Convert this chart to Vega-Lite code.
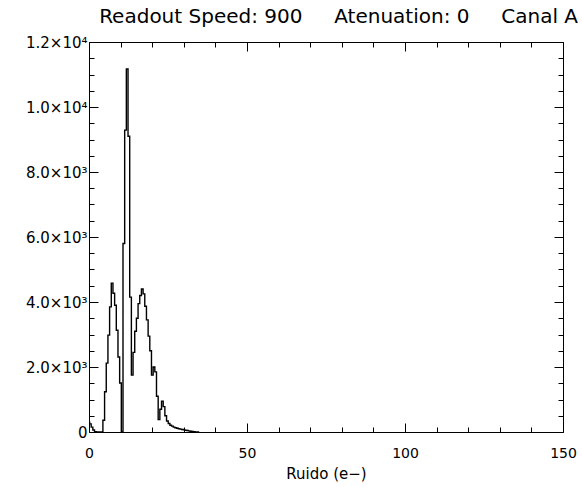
{
  "$schema": "https://vega.github.io/schema/vega-lite/v6.json",
  "width": 474,
  "height": 390,
  "autosize": "none",
  "padding": {"left": 89, "top": 42, "right": 19, "bottom": 55},
  "background": "white",
  "title": {
    "text": "Readout Speed: 900\u00a0\u00a0\u00a0\u00a0\u00a0Atenuation: 0\u00a0\u00a0\u00a0\u00a0\u00a0Canal A",
    "anchor": "end",
    "frame": "group",
    "dx": 15,
    "font": "DejaVu Sans",
    "fontSize": 20,
    "fontWeight": "normal",
    "color": "black",
    "baseline": "alphabetic",
    "offset": -8
  },
  "config": {
    "view": {"stroke": "black", "strokeWidth": 1},
    "axis": {
      "domain": false,
      "grid": false,
      "ticks": true,
      "tickOpacity": 1,
      "tickColor": "black",
      "labelColor": "black",
      "labelFont": "DejaVu Sans",
      "titleFont": "DejaVu Sans",
      "titleColor": "black",
      "titleFontWeight": "normal",
      "labelOverlap": false,
      "labelFlush": false
    }
  },
  "data": {
    "values": [
      {"x": 0, "y": 300}, {"x": 0.425, "y": 250}, {"x": 0.955, "y": 150}, {"x": 1.485, "y": 60},
      {"x": 2.015, "y": 10}, {"x": 2.545, "y": 0}, {"x": 3.075, "y": 0}, {"x": 3.605, "y": 0},
      {"x": 4.135, "y": 0}, {"x": 4.665, "y": 360}, {"x": 5.195, "y": 1240}, {"x": 5.725, "y": 2120},
      {"x": 6.255, "y": 2980}, {"x": 6.785, "y": 3850}, {"x": 7.315, "y": 4580}, {"x": 7.845, "y": 4270},
      {"x": 8.375, "y": 3900}, {"x": 8.905, "y": 3130}, {"x": 9.435, "y": 2310}, {"x": 9.965, "y": 1510},
      {"x": 10.495, "y": 0}, {"x": 11.025, "y": 5800}, {"x": 11.555, "y": 9290}, {"x": 12.085, "y": 11170},
      {"x": 12.615, "y": 9100}, {"x": 13.145, "y": 4150}, {"x": 13.675, "y": 1750}, {"x": 14.205, "y": 2450},
      {"x": 14.735, "y": 3100}, {"x": 15.265, "y": 3500}, {"x": 15.795, "y": 3950}, {"x": 16.325, "y": 4200},
      {"x": 16.855, "y": 4400}, {"x": 17.385, "y": 4250}, {"x": 17.915, "y": 3870}, {"x": 18.445, "y": 3450},
      {"x": 18.975, "y": 2950}, {"x": 19.505, "y": 2500}, {"x": 20.035, "y": 1750}, {"x": 20.565, "y": 2000},
      {"x": 21.095, "y": 1850}, {"x": 21.625, "y": 1100}, {"x": 22.155, "y": 380}, {"x": 22.685, "y": 700},
      {"x": 23.215, "y": 950}, {"x": 23.745, "y": 780}, {"x": 24.275, "y": 500}, {"x": 24.805, "y": 340},
      {"x": 25.335, "y": 260}, {"x": 25.865, "y": 210}, {"x": 26.395, "y": 180}, {"x": 26.925, "y": 150},
      {"x": 27.455, "y": 130}, {"x": 27.985, "y": 115}, {"x": 28.515, "y": 100}, {"x": 29.045, "y": 90},
      {"x": 29.575, "y": 75}, {"x": 30.105, "y": 65}, {"x": 30.635, "y": 55}, {"x": 31.165, "y": 45},
      {"x": 31.695, "y": 35}, {"x": 32.225, "y": 25}, {"x": 32.755, "y": 15}, {"x": 33.285, "y": 8},
      {"x": 33.815, "y": 0}, {"x": 34.345, "y": 0}, {"x": 34.875, "y": 0}
    ]
  },
  "layer": [
    {
      "mark": {"type": "line", "interpolate": "step", "color": "black", "strokeWidth": 1.4},
      "encoding": {
        "x": {
          "field": "x", "type": "quantitative",
          "scale": {"domain": [0, 150], "nice": false, "zero": false},
          "axis": {
            "orient": "bottom",
            "values": [0, 50, 100, 150],
            "tickSize": 9,
            "offset": -9,
            "labelPadding": 14,
            "labelFontSize": 14,
            "title": "Ruido (e\u2212)",
            "titleFontSize": 15,
            "titlePadding": 6
          }
        },
        "y": {
          "field": "y", "type": "quantitative",
          "scale": {"domain": [0, 12000], "nice": false},
          "axis": {
            "orient": "left",
            "values": [0, 2000, 4000, 6000, 8000, 10000, 12000],
            "tickSize": 9,
            "offset": -9,
            "labelExpr": "datum.value === 0 ? '0' : (datum.value >= 10000 ? format(datum.value / 10000, '.1f') + '\u00d710\u2074' : format(datum.value / 1000, '.1f') + '\u00d710\u00b3')",
            "labelPadding": 2,
            "labelFontSize": 15,
            "title": null
          }
        }
      }
    },
    {
      "mark": {"type": "line", "interpolate": "step", "opacity": 0},
      "encoding": {
        "x": {
          "field": "x", "type": "quantitative",
          "scale": {"domain": [0, 150], "nice": false, "zero": false},
          "axis": {
            "orient": "bottom",
            "values": [10, 20, 30, 40, 60, 70, 80, 90, 110, 120, 130, 140],
            "tickSize": 5,
            "offset": -5,
            "labels": false,
            "title": null
          }
        },
        "y": {
          "field": "y", "type": "quantitative",
          "scale": {"domain": [0, 12000], "nice": false},
          "axis": {
            "orient": "left",
            "values": [500, 1000, 1500, 2500, 3000, 3500, 4500, 5000, 5500, 6500, 7000, 7500, 8500, 9000, 9500, 10500, 11000, 11500],
            "tickSize": 5,
            "offset": -5,
            "labels": false,
            "title": null
          }
        }
      }
    },
    {
      "mark": {"type": "line", "interpolate": "step", "opacity": 0},
      "encoding": {
        "x": {
          "field": "x", "type": "quantitative",
          "scale": {"domain": [0, 150], "nice": false, "zero": false},
          "axis": {
            "orient": "top",
            "values": [0, 50, 100, 150],
            "tickSize": 9,
            "offset": -9,
            "labels": false,
            "title": null
          }
        },
        "y": {
          "field": "y", "type": "quantitative",
          "scale": {"domain": [0, 12000], "nice": false},
          "axis": {
            "orient": "right",
            "values": [0, 2000, 4000, 6000, 8000, 10000, 12000],
            "tickSize": 9,
            "offset": -9,
            "labels": false,
            "title": null
          }
        }
      }
    },
    {
      "mark": {"type": "line", "interpolate": "step", "opacity": 0},
      "encoding": {
        "x": {
          "field": "x", "type": "quantitative",
          "scale": {"domain": [0, 150], "nice": false, "zero": false},
          "axis": {
            "orient": "top",
            "values": [10, 20, 30, 40, 60, 70, 80, 90, 110, 120, 130, 140],
            "tickSize": 5,
            "offset": -5,
            "labels": false,
            "title": null
          }
        },
        "y": {
          "field": "y", "type": "quantitative",
          "scale": {"domain": [0, 12000], "nice": false},
          "axis": {
            "orient": "right",
            "values": [500, 1000, 1500, 2500, 3000, 3500, 4500, 5000, 5500, 6500, 7000, 7500, 8500, 9000, 9500, 10500, 11000, 11500],
            "tickSize": 5,
            "offset": -5,
            "labels": false,
            "title": null
          }
        }
      }
    }
  ],
  "resolve": {"axis": {"x": "independent", "y": "independent"}}
}
